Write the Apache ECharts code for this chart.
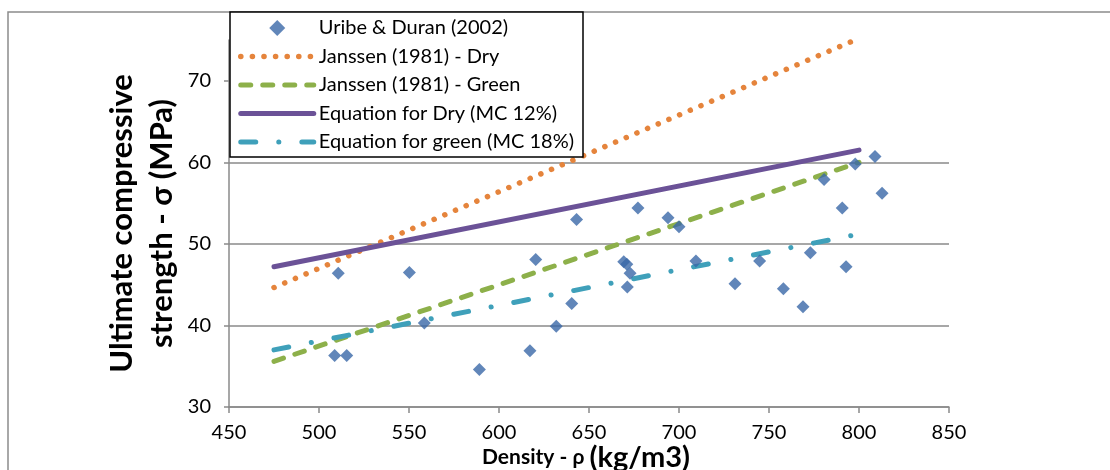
<!DOCTYPE html>
<html>
<head>
<meta charset="utf-8">
<script src="https://cdn.jsdelivr.net/npm/echarts@6/dist/echarts.min.js"></script>
<style>
html,body{margin:0;padding:0;background:#fff;}
#chart{width:1110px;height:470px;}
</style>
</head>
<body>
<div id="chart"></div>
<script>
// Data
var density = [510.7, 550.2, 558.5, 508.7, 515.4, 589.1, 617.2, 620.4, 631.8, 640.4, 643.1, 677.2, 669.3, 671.0, 672.8, 671.3, 693.9, 700.0, 709.4, 731.1, 744.8, 758.0, 768.9, 773.0, 792.8, 790.7, 780.6, 797.9, 808.9, 812.8];
var strength = [46.4, 46.5, 40.3, 36.3, 36.3, 34.6, 36.9, 48.1, 39.9, 42.7, 53.0, 54.4, 47.8, 47.5, 46.4, 44.7, 53.2, 52.1, 47.9, 45.1, 47.9, 44.5, 42.3, 48.9, 47.2, 54.4, 57.9, 59.8, 60.7, 56.2];
var lineDensity = [475, 800];
var janssenDry = [44.65, 75.2];
var janssenGreen = [35.6, 60.0];
var eqDry = [47.2, 61.5];
var eqGreen = [37.0, 51.2];
var seriesNames = ['Uribe & Duran (2002)', 'Janssen (1981) - Dry', 'Janssen (1981) - Green', 'Equation for Dry (MC 12%)', 'Equation for green (MC 18%)'];
var xTicks = [450, 500, 550, 600, 650, 700, 750, 800, 850];
var yTicks = [30, 40, 50, 60, 70];

function pairs(xs, ys) { return xs.map(function (x, i) { return [x, ys[i]]; }); }

var FONT = 'Lato';
var chart = echarts.init(document.getElementById('chart'), null, {renderer: 'canvas'});
var gridColor = '#8a8a8a';

// diamond icon centred in a 73x16 legend icon box (moves pin the bounding box)
var diamondIcon = 'path://M0,0M73,0M73,16M0,16M36.5,0L44.5,8L36.5,16L28.5,8Z';
var legendData = seriesNames.map(function (n, i) {
  return i === 0 ? {name: n, icon: diamondIcon} : {name: n, itemStyle: {opacity: 0}};
});

chart.setOption({
  animation: false,
  textStyle: {fontFamily: FONT},
  grid: {left: 229, right: 161, top: 40, bottom: 63, containLabel: false, outerBoundsMode: 'none'},
  graphic: [
    {type: 'rect', z: -10, shape: {x: 8, y: 12, width: 1120, height: 480}, style: {fill: '#fff', stroke: '#8c8c8c', lineWidth: 1.5}},
    {type: 'rect', z: 100, shape: {x: 230, y: 12, width: 353, height: 145}, style: {fill: '#fff', stroke: '#000', lineWidth: 1.5}}
  ],
  legend: {
    z: 200,
    orient: 'vertical',
    left: 238,
    top: 18,
    itemWidth: 73,
    itemHeight: 16,
    itemGap: 8.5,
    padding: 0,
    textStyle: {fontFamily: FONT, fontSize: 20, color: '#000', padding: [0, 0, 0, 0]},
    lineStyle: {width: 'inherit', type: 'inherit', cap: 'inherit'},
    data: legendData
  },
  xAxis: {
    type: 'value', min: 450, max: 850, interval: 50,
    name: '{a|Density - ρ }{b|(kg/m3)}',
    nameLocation: 'middle',
    nameGap: 36,
    nameMoveOverlap: false,
    nameTextStyle: {
      padding: [0, 6, 0, 0],
      rich: {
        a: {fontFamily: FONT, fontSize: 21, fontWeight: 'bold', color: '#000'},
        b: {fontFamily: FONT, fontSize: 29, fontWeight: 'bold', color: '#000'}
      }
    },
    axisLine: {show: true, lineStyle: {color: gridColor, width: 1.5}},
    axisTick: {show: true, length: 6, lineStyle: {color: gridColor, width: 1.5}},
    axisLabel: {fontFamily: FONT, fontSize: 20, color: '#000', margin: 16,
      formatter: function (v) { return xTicks.indexOf(v) >= 0 ? String(v) : ''; }},
    splitLine: {show: false}
  },
  yAxis: {
    type: 'value', min: 30, max: 75, interval: 10,
    name: 'Ultimate compressive\nstrength - σ (MPa)',
    nameLocation: 'middle',
    nameRotate: 90,
    nameGap: 47,
    nameMoveOverlap: false,
    nameTextStyle: {fontFamily: FONT, fontSize: 31, fontWeight: 'bold', color: '#000', lineHeight: 40},
    axisLine: {show: true, lineStyle: {color: gridColor, width: 1.5}},
    axisTick: {show: true, length: 5, lineStyle: {color: gridColor, width: 1.5}, customValues: yTicks},
    axisLabel: {fontFamily: FONT, fontSize: 20, color: '#000', margin: 18, showMaxLabel: false,
      formatter: function (v) { return yTicks.indexOf(v) >= 0 ? String(v) : ''; }},
    splitLine: {show: true, showMaxLine: false, lineStyle: {color: gridColor, width: 1.5}}
  },
  series: [
    {
      name: seriesNames[0], type: 'scatter', z: 10,
      symbol: 'diamond', symbolSize: 13, symbolKeepAspect: true,
      itemStyle: {color: '#3A68A8'},
      data: pairs(density, strength)
    },
    {
      name: seriesNames[1], type: 'line', z: 5, showSymbol: false,
      lineStyle: {color: '#E5843C', width: 5.5, type: [0.1, 11.5], cap: 'round'},
      itemStyle: {color: '#E5843C'},
      data: pairs(lineDensity, janssenDry)
    },
    {
      name: seriesNames[2], type: 'line', z: 5, showSymbol: false,
      lineStyle: {color: '#8DB04A', width: 5, type: [10, 12], cap: 'round'},
      itemStyle: {color: '#8DB04A'},
      data: pairs(lineDensity, janssenGreen)
    },
    {
      name: seriesNames[3], type: 'line', z: 5, showSymbol: false,
      lineStyle: {color: '#6B5297', width: 5, type: 'solid', cap: 'round'},
      itemStyle: {color: '#6B5297'},
      data: pairs(lineDensity, eqDry)
    },
    {
      name: seriesNames[4], type: 'line', z: 5, showSymbol: false,
      lineStyle: {color: '#3FA0BA', width: 5, type: [15, 23, 0.1, 23], cap: 'round'},
      itemStyle: {color: '#3FA0BA'},
      data: pairs(lineDensity, eqGreen)
    }
  ]
});
</script>
</body>
</html>
